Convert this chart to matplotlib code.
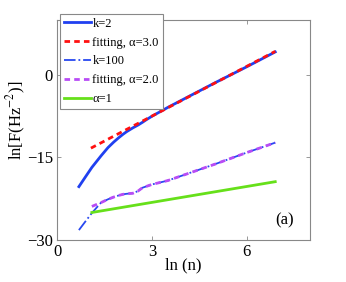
import numpy as np
import matplotlib
matplotlib.use('Agg')
import matplotlib.pyplot as plt

plt.rcParams['font.family'] = ['Liberation Serif', 'DejaVu Serif']
plt.rcParams['mathtext.fontset'] = 'stix'

# data (x = ln n)
x_k2 = [0.69, 0.9, 1.1, 1.39, 1.61, 1.79, 1.95, 2.08, 2.2, 2.4, 2.56, 2.7, 2.83, 3.0, 3.5, 4.0, 5.0, 6.0, 6.9]
y_k2 = [-20.3, -18.5, -16.8, -14.7, -13.2, -12.2, -11.4, -10.8, -10.3, -9.6, -9.1, -8.6, -8.1, -7.5, -5.9, -4.4, -1.4, 1.5, 4.2]

x_fit3 = [1.07, 6.9]
y_fit3 = [-13.3, 4.3]

x_k100 = [0.69, 0.9, 1.1, 1.39, 1.61, 1.79, 1.95, 2.08, 2.2, 2.4, 2.56, 2.7, 3.0, 3.5, 4.0, 5.0, 6.0, 6.9]
y_k100 = [-28.2, -26.6, -25.1, -23.2, -22.6, -22.2, -21.9, -21.7, -21.6, -21.5, -21.1, -20.5, -19.9, -19.2, -18.2, -16.2, -14.1, -12.3]

x_fit2 = [1.1, 1.39, 1.61, 1.79, 1.95, 2.08, 2.2, 2.4, 2.56, 2.7, 3.0, 3.5, 4.0, 5.0, 6.0, 6.9]
y_fit2 = [-23.9, -23.2, -22.6, -22.2, -21.9, -21.7, -21.6, -21.5, -21.1, -20.5, -19.9, -19.2, -18.2, -16.2, -14.1, -12.3]

x_a1 = [1.1, 6.9]
y_a1 = [-25.0, -19.4]

fig = plt.figure(figsize=(3.46, 2.82), dpi=100)
ax = fig.add_axes([0.165, 0.149, 0.731, 0.78])

l1, = ax.plot(x_k2, y_k2, '-', color='#2040f0', lw=2.0, label='k=2')
l2, = ax.plot(x_fit3, y_fit3, '--', color='#ff1010', lw=2.0, dashes=(2, 1.5), label='fitting, α=3.0')
l3, = ax.plot(x_k100, y_k100, '-.', color='#2848f0', lw=1.3, label='k=100')
l4, = ax.plot(x_fit2, y_fit2, '--', color='#b84cf5', lw=2.0, dashes=(2, 1.5), label='fitting, α=2.0')
l5, = ax.plot(x_a1, y_a1, '-', color='#66e01a', lw=2.0, label='α=1')

ax.set_xlim(0, 8)
ax.set_ylim(-30, 10)
ax.set_xticks([0, 3, 6])
ax.set_yticks([-30, -15, 0])
ax.tick_params(direction='in', length=3, width=0.6, color='#888888',
               labelsize=12, pad=3, top=True, right=True)
for s in ax.spines.values():
    s.set_color('#888888')
    s.set_linewidth(0.8)

ax.set_xlabel('ln (n)', fontsize=12, labelpad=-2)
ax.set_ylabel('ln[F(Hz$^{-2}$)]', fontsize=12)
ax.yaxis.set_label_coords(-0.115, 0.545)
ax.text(7.2, -26.5, '(a)', fontsize=12, ha='center', va='center')

leg = fig.legend(handles=[l1, l2, l3, l4, l5], loc='upper left',
                 bbox_to_anchor=(60 / 346, 1 - 14 / 282), fontsize=9,
                 handlelength=2.2, handletextpad=0.1, labelspacing=0.55,
                 borderpad=0.3, borderaxespad=0, fancybox=False,
                 edgecolor='#888888', framealpha=1)
leg.get_frame().set_linewidth(0.8)

fig.savefig('out.png', dpi=100)
